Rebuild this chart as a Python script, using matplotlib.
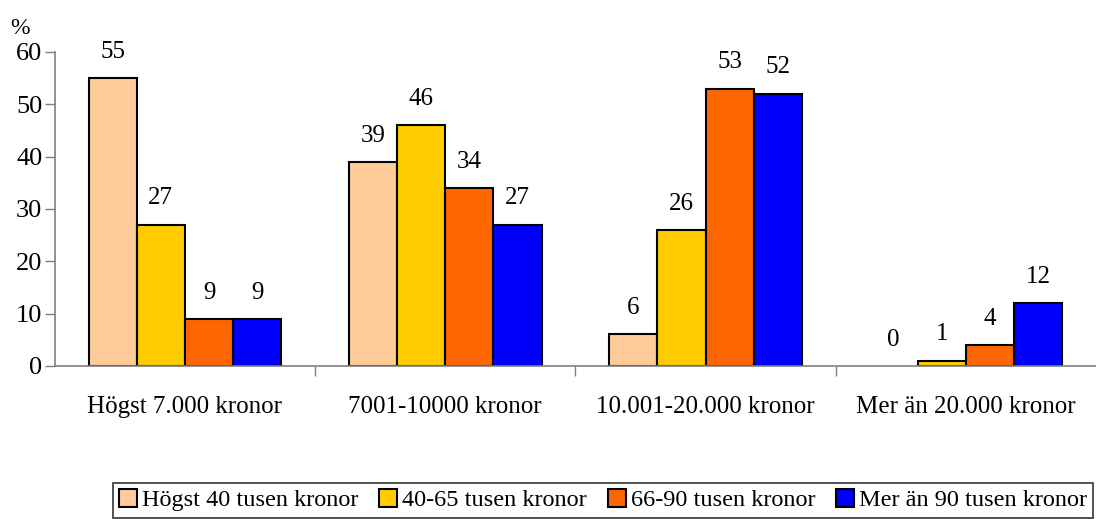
import numpy as np
import matplotlib.pyplot as plt

plt.rcParams['font.family'] = ['Liberation Serif', 'DejaVu Serif']

# data
categories = ["Högst 7.000 kronor", "7001-10000 kronor", "10.001-20.000 kronor", "Mer än 20.000 kronor"]
series_names = ["Högst 40 tusen kronor", "40-65 tusen kronor", "66-90 tusen kronor", "Mer än 90 tusen kronor"]
hogst40 = [55, 39, 6, 0]
t40_65 = [27, 46, 26, 1]
t66_90 = [9, 34, 53, 4]
mer90 = [9, 27, 52, 12]
colors = ["#FFCC99", "#FFCC00", "#FF6600", "#0000FF"]

fig = plt.figure(figsize=(10.96, 5.19), dpi=100)
ax = fig.add_axes([0.050, 0.295, 0.95, 0.605])

x = np.arange(len(categories))
w = 0.185
handles = []
for i, (vals, col, name) in enumerate(zip([hogst40, t40_65, t66_90, mer90], colors, series_names)):
    pos = x + (i - 1.5) * w
    bars = ax.bar(pos, vals, width=w, color=col, edgecolor='black', linewidth=1.5, label=name, zorder=2)
    handles.append(bars)
    for b, p, v in zip(bars, pos, vals):
        if v == 0:
            b.set_linewidth(0)
        ax.annotate(str(v), (p, v), xytext=(0, 11), textcoords='offset points',
                    ha='center', va='bottom', fontsize=18)

ax.set_xlim(-0.5, 3.5)
ax.set_ylim(0, 60)
ax.set_yticks(range(0, 61, 10))
ax.set_xticks(x)
ax.set_xticklabels(categories, fontsize=18)
ax.tick_params(axis='x', length=0, pad=22)
ax.set_xticks([0.5, 1.5, 2.5], minor=True)
ax.tick_params(axis='x', which='minor', length=7, width=1, color='#808080', direction='out')
ax.tick_params(axis='y', labelsize=19, length=7, width=1, color='#808080', pad=2)
for s in ['top', 'right']:
    ax.spines[s].set_visible(False)
for s in ['left', 'bottom']:
    ax.spines[s].set_color('#808080')
    ax.spines[s].set_linewidth(1.2)
    ax.spines[s].set_zorder(3)

fig.text(0.009, 0.925, "%", fontsize=17, ha='left', va='bottom')

leg = fig.legend(handles=handles, loc='upper left', bbox_to_anchor=(113 / 1096, 1 - 483 / 519),
                 ncol=4, fontsize=17.5, frameon=True, fancybox=False, edgecolor='black',
                 handlelength=0.75, handleheight=0.75, handletextpad=0.2, columnspacing=0.85,
                 borderpad=0.25, borderaxespad=0)
leg.get_frame().set_linewidth(1.2)

fig.savefig("out.png", dpi=100)
